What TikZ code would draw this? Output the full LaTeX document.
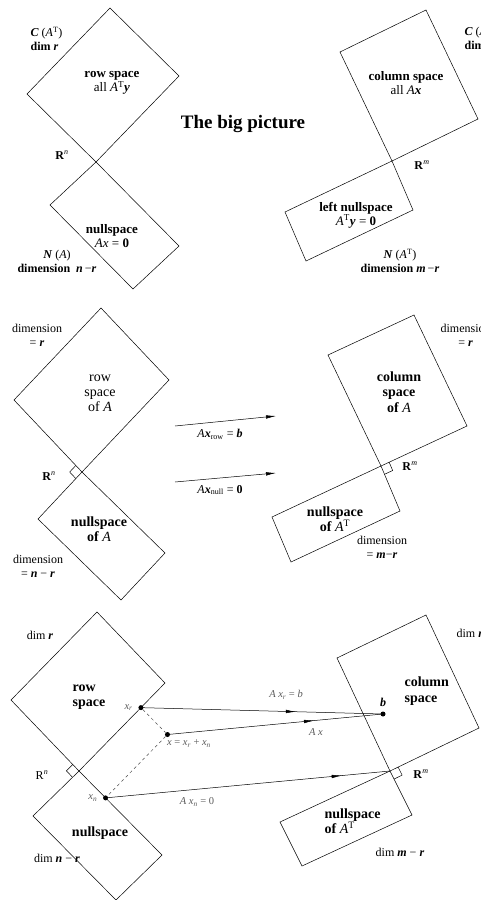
\documentclass[tikz,border=0pt]{standalone}
\usepackage{fontspec}
\setmainfont{Liberation Serif}
\usetikzlibrary{arrows.meta, positioning, calc, decorations.markings}

\newcommand\vb[1]{\textbf{\textit{#1}}}
\newcommand\mA{\textnormal{\textit{A}}}
\newcommand\tr{\textsuperscript{T}}
\newcommand\perpbox[3]{%
  \coordinate (pa) at ($(#1)!9pt!(#2)$);
  \coordinate (pb) at ($(#1)!9pt!(#3)$);
  \draw (pa) -- ($(pa)+(pb)-(#1)$) -- (pb);}

\begin{document}
\begin{tikzpicture}[x=1pt, y=-1pt, line width=0.5pt,
    every node/.style={font=\fontsize{12}{14}\selectfont},
    bl/.style={font=\fontsize{13}{15}\selectfont\bfseries, align=center},
    big/.style={font=\fontsize{14}{15.5}\selectfont\bfseries, align=center},
    thin/.style={font=\fontsize{10.5}{12}\selectfont, text=black!65},
    dot/.style={circle, fill, inner sep=0pt, minimum size=5pt},
    tip/.style={-{Latex[length=10pt,width=3.5pt]}},
    midarrow/.style={postaction={decorate}, decoration={markings,
      mark=at position #1 with {\arrow{Latex[length=10pt,width=3.5pt]}}}}]
  \useasboundingbox (0,0) rectangle (480,900);

  % the big picture
  \coordinate (O1) at (96,162);
  \coordinate (rowR1) at (179,76); \coordinate (rowL1) at (27,94);
  \coordinate (nulR1) at (179,246); \coordinate (nulL1) at (50,205);
  \draw (O1) -- (rowR1) -- (110,8) -- (rowL1) -- cycle;
  \draw (O1) -- (nulR1) -- (133,289) -- (nulL1) -- cycle;
  \coordinate (O1r) at (392,161);
  \coordinate (colR1) at (478,119); \coordinate (colL1) at (340,52);
  \coordinate (natR1) at (413,210); \coordinate (natL1) at (285,212);
  \draw (O1r) -- (colR1) -- (426,10) -- (colL1) -- cycle;
  \draw (O1r) -- (natR1) -- (306,261) -- (natL1) -- cycle;

  \node[anchor=west, align=left] (crow) at (27,39) {\vb{C} (\textit{A}\tr)\\\textbf{dim} \vb{r}};
  \node[bl] (row1) at (112,83) {row space\\[-1pt]\mdseries all \textit{A}\tr\vb{y}};
  \node[font=\fontsize{19}{22}\selectfont\bfseries] (title) at (243,124) {The big picture};
  \node (rn1) at (62,155) {\textbf{R}\textsuperscript{\textit{n}}};
  \node[bl] (nul1) at (112,236) {nullspace\\[-1pt]\mdseries \textit{Ax} = \textbf{0}};
  \node[align=center] (nA1) at (57,261) {\vb{N} (\textit{A})\\\textbf{dimension}\enspace\vb{n}\,−\vb{r}};
  \node[anchor=west, align=left] (ccol) at (461,38) {\vb{C} (\textit{A})\\\textbf{dim} \vb{r}};
  \node[bl] (col1) at (406,83) {column space\\[-1pt]\mdseries all \textit{A}\vb{x}};
  \node (rm1) at (422,165) {\textbf{R}\textsuperscript{\textit{m}}};
  \node[bl] (lnul1) at (356,215) {left nullspace\\[-1pt]\mdseries \textit{A}\tr\vb{y} = \textbf{0}};
  \node[align=center] (nAT1) at (400,261) {\vb{N} (\textit{A}\tr)\\\textbf{dimension} \vb{m}\,−\vb{r}};

  % dimensions and right angles
  \coordinate (O2) at (82,472);
  \coordinate (rowR2) at (169,380); \coordinate (rowL2) at (14,400);
  \coordinate (nulR2) at (165,553); \coordinate (nulL2) at (38,519);
  \draw (O2) -- (rowR2) -- (101,308) -- (rowL2) -- cycle;
  \draw (O2) -- (nulR2) -- (121,600) -- (nulL2) -- cycle;
  \perpbox{O2}{rowL2}{nulL2}
  \coordinate (O2r) at (381,466);
  \coordinate (colR2) at (467,426); \coordinate (colL2) at (328,355);
  \coordinate (natR2) at (400,511); \coordinate (natL2) at (272,517);
  \draw (O2r) -- (colR2) -- (414,315) -- (colL2) -- cycle;
  \draw (O2r) -- (natR2) -- (291,562) -- (natL2) -- cycle;
  \perpbox{O2r}{colR2}{natR2}

  \node[align=center] (drow2) at (37,335) {dimension\\= \vb{r}};
  \node[align=center, font=\fontsize{14}{15}\selectfont] (row2) at (100,393) {row\\space\\of \textit{A}};
  \node (rn2) at (49,476) {\textbf{R}\textsuperscript{\textit{n}}};
  \node[big] (nul2) at (99,529) {nullspace\\of \mA};
  \node[align=center] (dnul2) at (38,566) {dimension\\= \vb{n} − \vb{r}};
  \coordinate (a1s) at (175,426); \coordinate (a1e) at (276,416);
  \coordinate (a2s) at (175,482); \coordinate (a2e) at (276,473);
  \draw[tip] (a1s) -- (a1e);
  \draw[tip] (a2s) -- (a2e);
  \node (lrow) at (220,434) {\textit{A}\vb{x}\textsubscript{row} = \vb{b}};
  \node (lnull) at (220,490) {\textit{A}\vb{x}\textsubscript{null} = \textbf{0}};
  \node[anchor=west, align=center] (dcol2) at (437,335) {dimension\\= \vb{r}};
  \node[big] (col2) at (399,392) {column\\space\\of \mA};
  \node (rm2) at (410,466) {\textbf{R}\textsuperscript{\textit{m}}};
  \node[big] (nat2) at (335,519) {nullspace\\of \mA\textnormal{\tr}};
  \node[align=center] (dnat2) at (382,547) {dimension\\= \vb{m}−\vb{r}};

  % x = x_r + x_n
  \coordinate (O3) at (79,771);
  \coordinate (rowR3) at (165,683); \coordinate (rowL3) at (11,700);
  \coordinate (nulR3) at (162,855); \coordinate (nulL3) at (33,816);
  \draw (O3) -- (rowR3) -- (97,612) -- (rowL3) -- cycle;
  \draw (O3) -- (nulR3) -- (116,900) -- (nulL3) -- cycle;
  \perpbox{O3}{rowL3}{nulL3}
  \coordinate (O3r) at (390,771);
  \coordinate (colR3) at (479,728); \coordinate (colL3) at (337,658);
  \coordinate (natR3) at (412,815); \coordinate (natL3) at (280,822);
  \draw (O3r) -- (colR3) -- (426,615) -- (colL3) -- cycle;
  \draw (O3r) -- (natR3) -- (302,866) -- (natL3) -- cycle;
  \perpbox{O3r}{colR3}{natR3}

  \node[dot] (xr) at ($(O3)!0.72!(rowR3)$) {};
  \node[dot] (xn) at ($(O3)!0.32!(nulR3)$) {};
  \node[dot] (x) at ($(xr)+(xn)-(O3)$) {};
  \node[dot] (b) at (383,714) {};
  \draw[dashed, black!70] (xr) -- (x) -- (xn);
  \draw[midarrow=0.64] (xr.center) -- (b.center);
  \draw[midarrow=0.68] (x.center) -- (b.center);
  \draw[midarrow=0.83] (xn.center) -- (O3r);

  \node (drow3) at (40,635) {dim \vb{r}};
  \node[big, align=left, anchor=west] (row3) at (69,697) {row\\space};
  \node[thin, left=2pt of xr] (lxr) {\textit{x}\textsubscript{\textit{r}}};
  \node[thin, below right=0pt and -6pt of x] (lx) {\textit{x} = \textit{x}\textsubscript{\textit{r}} + \textit{x}\textsubscript{\textit{n}}};
  \node (rn3) at (42,775) {R\textsuperscript{\textit{n}}};
  \node[thin, left=2pt of xn] (lxn) {\textit{x}\textsubscript{\textit{n}}};
  \node[thin] (lan) at (197,802) {\textit{A x}\textsubscript{\textit{n}} = 0};
  \node[big] (nul3) at (100,833) {nullspace};
  \node (dnul3) at (57,858) {dim \vb{n} − \vb{r}};
  \node[anchor=west] (dcol3) at (453,633) {dim \vb{m}};
  \node[big, align=left, anchor=west] (col3) at (401,691) {column\\space};
  \node[above=1pt of b] (lb) {\vb{b}};
  \node[thin] (lar) at (286,695) {\textit{A x}\textsubscript{\textit{r}} = \textit{b}};
  \node[thin] (lax) at (316,732) {\textit{A x}};
  \node (rm3) at (421,774) {\textbf{R}\textsuperscript{\textit{m}}};
  \node[big, align=left, anchor=west] (nat3) at (321,821) {nullspace\\of \mA\textnormal{\tr}};
  \node (dnat3) at (400,852) {dim \vb{m} − \vb{r}};
\end{tikzpicture}
\end{document}
